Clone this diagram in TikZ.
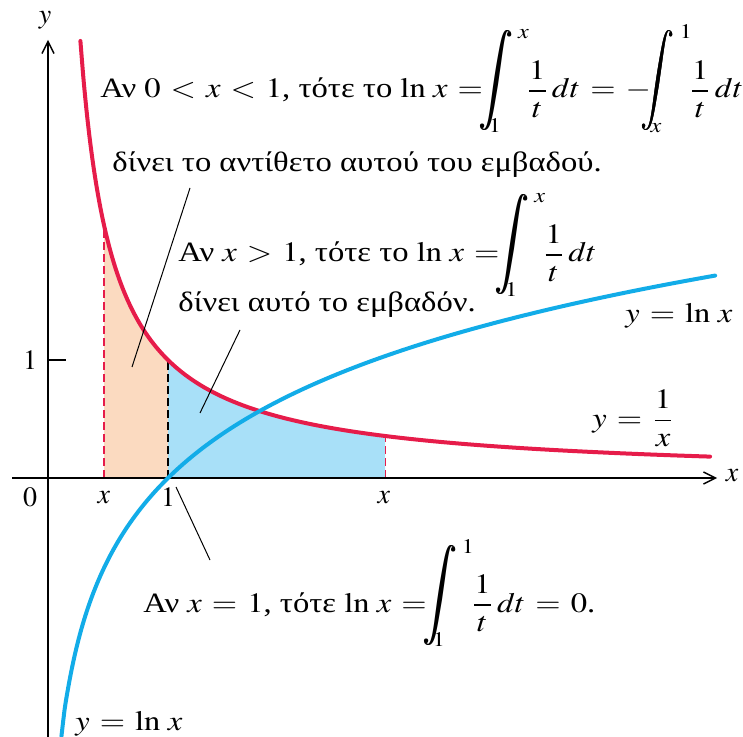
\documentclass[tikz,border=0pt]{standalone}
\usepackage{amsmath}
\usepackage{mathptmx}
\usepackage{graphicx}
\usepackage[no-math]{fontspec}
\setmainfont{Liberation Serif}
\usetikzlibrary{arrows.meta}
\DeclareSymbolFont{cmlarge}{OMX}{cmex}{m}{n}
\DeclareMathSymbol{\cmint}{\mathop}{cmlarge}{"5A}
\definecolor{cred}{RGB}{230,28,74}
\definecolor{cblue}{RGB}{18,172,232}
\definecolor{cpeach}{RGB}{251,218,192}
\definecolor{cfill}{RGB}{168,224,248}
\newcommand{\IntGlyph}{\rlap{$\displaystyle\cmint$}\kern0.3pt$\displaystyle\cmint$}
\newcommand{\BigInt}[2]{\mkern-8mu\mathop{\raisebox{5pt}{$\vcenter{\hbox{\resizebox*{15pt}{50pt}{\IntGlyph}}}$}}\nolimits_{\kern-10.5pt#1}^{\kern2pt#2}\mkern-4mu}
\newcommand{\W}[1]{\scalebox{1.165}[1]{#1}}
\newcommand{\lnx}{\ln\,x}
\tikzset{
  axis/.style={line width=0.7pt, black},
  axisarrow/.style={axis, -{Straight Barb[length=6pt,width=6pt]}},
  curve/.style={line width=2pt, line cap=round},
  leader/.style={line width=0.5pt, black},
  txt/.style={inner sep=0pt, anchor=base west},
  lbl/.style={inner sep=0pt},
  dsh/.style={line width=0.6pt, dash pattern=on 4pt off 2pt}
}
\begin{document}
\thickmuskip=5.5mu plus 2mu
\begin{tikzpicture}[x=0.5pt,y=-0.5pt, font=\fontsize{14}{16}\selectfont]
\useasboundingbox (0,0) rectangle (743,737);
% regions
\begin{scope}[shift={(48,478)},x=60pt,y=59pt]
  \fill[cpeach] (0.467,0) -- plot[domain=0.467:1, samples=40] (\x,{1/\x}) -- (1,0) -- cycle;
  \fill[cfill] (1,0) -- plot[domain=1:2.81, samples=60] (\x,{1/\x}) -- (2.81,0) -- cycle;
  \draw[dsh, cred] (0.467,0) -- (0.467,{1/0.467});
  \draw[dsh, black] (1,0) -- (1,1);
  \draw[dsh, cred] (2.81,0) -- (2.81,{1/2.81});
\end{scope}
% axes
\coordinate (yb) at (48,737);
\coordinate (yt) at (48,40);
\coordinate (xl) at (12,478);
\coordinate (xr) at (717,478);
\coordinate (tk0) at (48,360);
\coordinate (tk1) at (66,360);
\draw[axisarrow] (yb) -- (yt);
\draw[axisarrow] (xl) -- (xr);
\draw[axis] (tk0) -- (tk1);
% curves
\begin{scope}[shift={(48,478)},x=60pt,y=59pt]
  \draw[curve, cred] plot[domain=0.27:5.52, samples=200, smooth] (\x,{1/\x});
  \draw[curve, cblue] plot[domain=0.112:5.56, samples=200, smooth] (\x,{ln(\x)});
\end{scope}
% axis labels
\node[lbl] (ylab) at (45,20) {$y$};
\node[lbl] (xlab) at (732,476) {$x$};
\node[lbl] (o) at (30,497) {$0$};
\node[lbl] (xa) at (104,498) {$x$};
\node[lbl] (one) at (168,497) {$1$};
\node[lbl] (xb) at (384,498) {$x$};
\node[lbl] (onev) at (30,360) {$1$};
% texts
\node[txt] (t1) at (100,98) {\W{Αν $0 < x < 1$, τότε το $\lnx =\BigInt{1}{x}\dfrac{1}{t}\,dt = -\BigInt{x}{1}\dfrac{1}{t}\,dt$}};
\node[txt] (t2) at (112,172) {\W{δίνει το αντίθετο αυτού του εμβαδού.}};
\node[txt] (t3) at (178,262) {\W{Αν $x > 1$, τότε το $\lnx =\BigInt{1}{x}\dfrac{1}{t}\,dt$}};
\node[txt] (t4) at (178,312) {\W{δίνει αυτό το εμβαδόν.}};
\node[txt] (t5) at (143,612) {\W{Αν $x = 1$, τότε $\lnx =\BigInt{1}{1}\dfrac{1}{t}\,dt = 0$.}};
\node[txt] (lln) at (625,322) {\W{$y = \lnx$}};
\node[lbl, anchor=west] (linv) at (592,418) {\W{$y = \dfrac{1}{x}$}};
\node[txt] (llnb) at (75,730) {\W{$y = \lnx$}};
% leaders
\coordinate (a1) at (190,188);
\coordinate (a2) at (132,367);
\coordinate (b1) at (240,330);
\coordinate (b2) at (200,413);
\coordinate (c1) at (176,487);
\coordinate (c2) at (210,560);
\draw[leader] (a1) -- (a2);
\draw[leader] (b1) -- (b2);
\draw[leader] (c1) -- (c2);
\end{tikzpicture}
\end{document}
